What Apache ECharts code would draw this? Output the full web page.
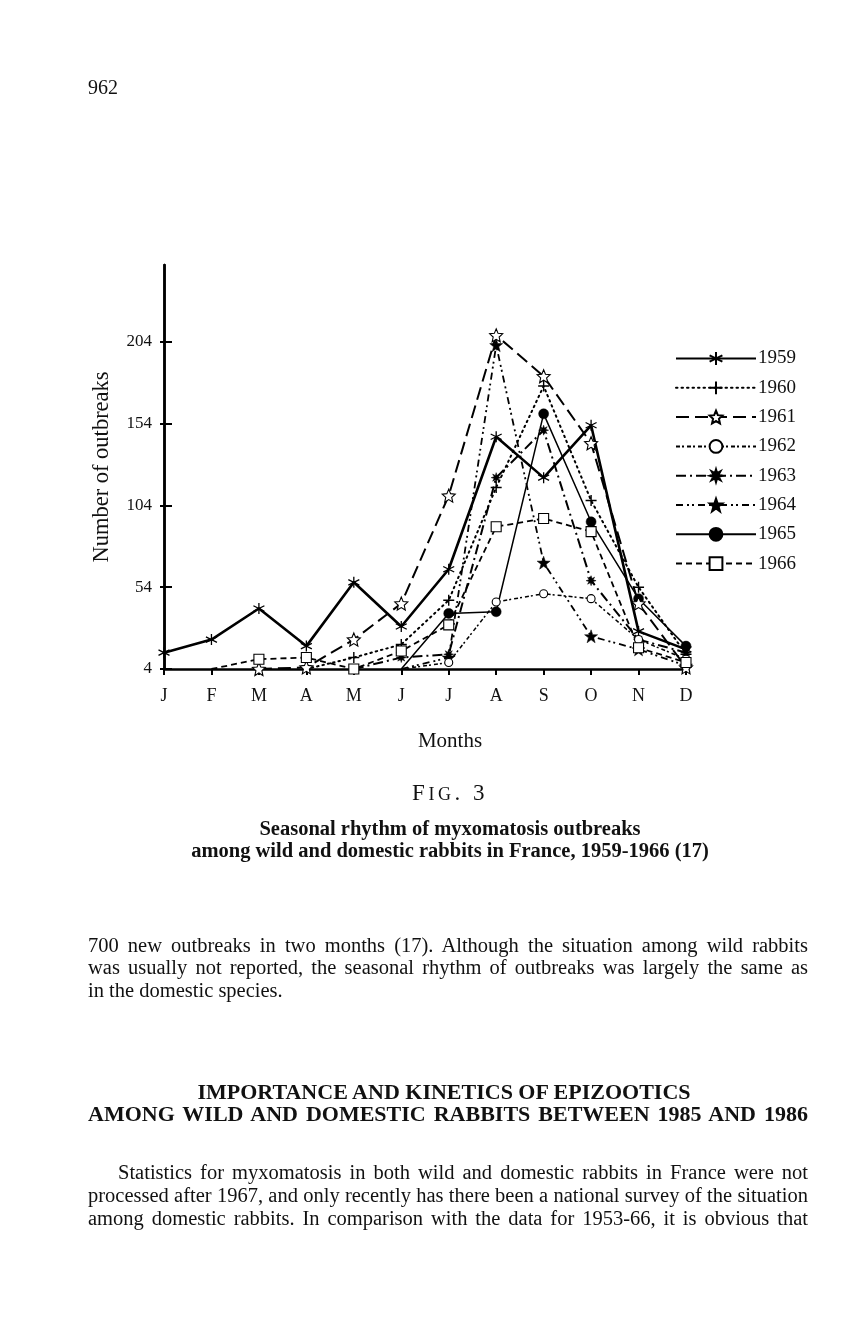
<!DOCTYPE html>
<html><head><meta charset="utf-8">
<script src="https://cdn.jsdelivr.net/npm/echarts@6.0.0/dist/echarts.min.js"></script>
<style>
html,body{margin:0;padding:0;background:#fff;}
#chart{position:absolute;left:0;top:0;width:841px;height:1332px;}
.t{position:absolute;font-family:'Liberation Serif','Times New Roman',serif;color:#111;white-space:nowrap;line-height:22px;font-size:20.5px;}
.j{left:88px;width:720px;text-align:justify;text-align-last:justify;}
.c{left:0;width:900px;text-align:center;}
.b{font-weight:bold;}
</style></head><body>
<div id="chart"></div>
<div class="t" style="left:88px;top:76px;font-size:20px;">962</div>
<div class="t" style="left:350px;width:200px;text-align:center;top:729px;font-size:21px;">Months</div>
<div class="t c" style="top:782px;font-size:23px;letter-spacing:3.5px;"><span>F</span><span style="font-size:18px">IG</span>. 3</div>
<div class="t c b" style="top:817px;">Seasonal rhythm of myxomatosis outbreaks</div>
<div class="t c b" style="top:839px;">among wild and domestic rabbits in France, 1959-1966 (17)</div>
<div class="t j" style="top:934px;">700 new outbreaks in two months (17). Although the situation among wild rabbits</div>
<div class="t j" style="top:956px;">was usually not reported, the seasonal rhythm of outbreaks was largely the same as</div>
<div class="t" style="left:88px;top:979px;">in the domestic species.</div>
<div class="t c b" style="top:1081px;left:-6px;font-size:22px;">IMPORTANCE AND KINETICS OF EPIZOOTICS</div>
<div class="t j b" style="top:1103px;font-size:22px;">AMONG WILD AND DOMESTIC RABBITS BETWEEN 1985 AND 1986</div>
<div class="t j" style="top:1161px;left:118px;width:690px;">Statistics for myxomatosis in both wild and domestic rabbits in France were not</div>
<div class="t j" style="top:1184px;">processed after 1967, and only recently has there been a national survey of the situation</div>
<div class="t j" style="top:1207px;">among domestic rabbits. In comparison with the data for 1953-66, it is obvious that</div>
<script>
// ---- data ----
const months = ['J','F','M','A','M','J','J','A','S','O','N','D'];
const yTicks = [4, 54, 104, 154, 204];
const years = ['1959','1960','1961','1962','1963','1964','1965','1966'];
const s1959 = [14, 22, 41, 18, 57, 30, 65, 146, 121, 153, 27, 16];
const s1960 = [null, null, null, 4, 11, 19, 46, 115, 177, 107, 54, 13];
const s1961 = [null, null, 4, 5, 22, 44, 110, 208, 183, 142, 44, 5];
const s1962 = [null, null, null, null, null, 4, 8, 45, 50, 47, 22, 10];
const s1963 = [null, null, null, null, 4, 11, 13, 121, 150, 58, 22, 14];
const s1964 = [null, null, null, null, null, 4, 11, 202, 69, 24, 16, 6];
const s1965 = [null, null, null, null, null, 4, 38, 39, 160, 94, 47, 18];
const s1966 = [null, 4, 10, 11, 4, 15, 31, 91, 96, 88, 17, 8];
const seriesValues = [s1959, s1960, s1961, s1962, s1963, s1964, s1965, s1966];

// ---- styles ----
const FONT = "'Liberation Serif','Times New Roman',serif";
const asterisk = 'path://M0,-5L0,5M-4.33,-2.5L4.33,2.5M-4.33,2.5L4.33,-2.5';
const plus = 'path://M0,-5L0,5M-5,0L5,0';
function starPath(n, ro, ri){
  let d='';
  for(let i=0;i<2*n;i++){
    const r = i%2===0?ro:ri;
    const a = -Math.PI/2 + i*Math.PI/n;
    d += (i===0?'M':'L') + (r*Math.cos(a)).toFixed(2) + ',' + (r*Math.sin(a)).toFixed(2);
  }
  return 'path://' + d + 'Z';
}
const openStar = starPath(5, 10, 4.6);
const burst = starPath(8, 10, 4.5);
const filledStar = starPath(5, 10, 4);

const styles = [
  {type:'solid', width:2.6, symbol:asterisk, size:11, fill:'none', stroke:1.3},
  {type:[1.5,4], width:2, symbol:plus, size:11, fill:'none', stroke:1.4, cap:'round'},
  {type:[13,6], width:2, symbol:openStar, size:13, fill:'#fff', stroke:1.1},
  {type:[4,2,2,3], width:1.5, symbol:'circle', size:8, fill:'#fff', stroke:1.1},
  {type:[10,4,2,4], width:2, symbol:burst, size:10, fill:'#000', stroke:0.5},
  {type:[7,4,2,3,2,4], width:1.8, symbol:filledStar, size:13, fill:'#000', stroke:0.5},
  {type:'solid', width:1.5, symbol:'circle', size:10, fill:'#000', stroke:0.5},
  {type:[6,4], width:1.8, symbol:'rect', size:10, fill:'#fff', stroke:1.1}
];

const series = years.map((name, k) => {
  const st = styles[k];
  const vals = seriesValues[k];
  const first = vals.findIndex(v => v !== null);
  return {
    name, type:'line', symbol: st.symbol, symbolSize: st.size,
    showAllSymbol: true, connectNulls:false,
    z: st.fill === '#fff' ? 4 : 3,
    lineStyle:{color:'#000', width:st.width, type:st.type, cap: st.cap || 'butt'},
    itemStyle:{color: st.fill, borderColor:'#000', borderWidth: st.stroke, opacity:1},
    emphasis:{disabled:true},
    data: vals.map((v,i) => (i === first && v === 4 && k !== 2) ? {value:v, symbol:'none'} : v)
  };
});

const chart = echarts.init(document.getElementById('chart'), null, {renderer:'canvas'});
const yBase = {
  type:'value', min:4, max:251, position:'left',
  axisLine:{show:true, lineStyle:{color:'#000', width:2.5}},
  splitLine:{show:false}
};
chart.setOption({
  animation:false,
  backgroundColor:'transparent',
  textStyle:{fontFamily:FONT},
  grid:{left:164, top:265, width:522, height:404, containLabel:false},
  legend:{
    orient:'vertical', left:670, top:344,
    itemWidth:80, itemHeight:16, itemGap:10.3,
    textStyle:{fontFamily:FONT, fontSize:19, color:'#111', padding:[0,0,0,-3]},
    data: years, selectedMode:false
  },
  xAxis:{
    type:'category', data:months, boundaryGap:false,
    axisLine:{show:true, onZero:false, lineStyle:{color:'#000', width:2.5}},
    axisTick:{show:true, length:6, lineStyle:{color:'#000', width:2}},
    axisLabel:{fontFamily:FONT, fontSize:18, color:'#111', margin:18}
  },
  yAxis:[
    Object.assign({}, yBase, {
      axisTick:{show:true, inside:true, length:8, customValues:yTicks, lineStyle:{color:'#000', width:2}},
      axisLabel:{show:true, customValues:yTicks, fontFamily:FONT, fontSize:17, color:'#111', margin:12},
      name:'Number of outbreaks', nameLocation:'middle', nameGap:50,
      nameTextStyle:{fontFamily:FONT, fontSize:22.5, color:'#111'}
    }),
    Object.assign({}, yBase, {
      axisTick:{show:true, inside:false, length:4, customValues:yTicks, lineStyle:{color:'#000', width:2}},
      axisLabel:{show:false}
    })
  ],
  series
});
</script>
</body></html>
